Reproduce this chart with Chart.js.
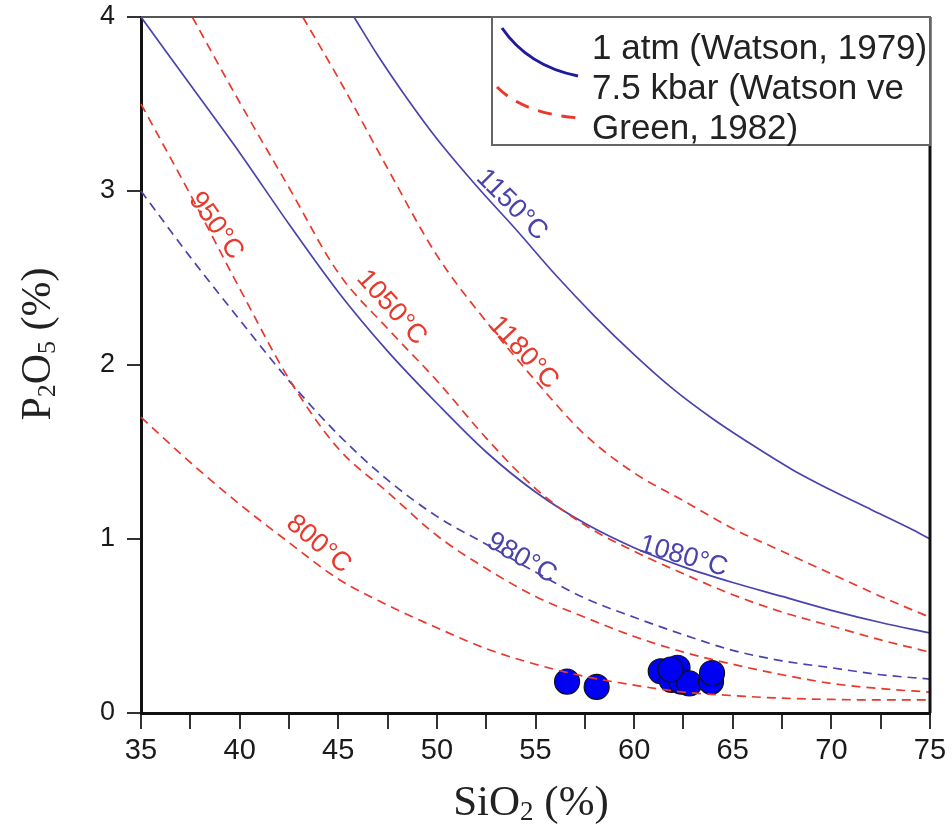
<!DOCTYPE html>
<html>
<head>
<meta charset="utf-8">
<script src="https://cdn.jsdelivr.net/npm/chart.js@4.4.1/dist/chart.umd.min.js"></script>
<style>
  html, body { margin: 0; padding: 0; background: #fff; }
  #wrap { width: 952px; height: 836px; }
</style>
</head>
<body>
<div id="wrap"><canvas id="apatiteChart" width="952" height="836"></canvas></div>
<script>
// --- data (SiO2 %, P2O5 %) ---
const xTicks = [35, 40, 45, 50, 55, 60, 65, 70, 75];
const yTicks = [0, 1, 2, 3, 4];

// 1 atm (Watson, 1979) - blue
const c1150x = [45.8, 47, 48.5, 50, 52, 54, 56, 58, 60, 62, 64, 66, 68, 70, 72, 74, 75];
const c1150y = [4.0, 3.78, 3.53, 3.30, 3.03, 2.78, 2.52, 2.28, 2.06, 1.86, 1.69, 1.54, 1.40, 1.28, 1.17, 1.06, 1.0];

const c1080x = [35, 37.5, 40, 42.5, 45, 47.5, 50, 52.5, 55, 57.5, 60, 62.5, 65, 67.5, 70, 72.5, 75];
const c1080y = [4.0, 3.61, 3.22, 2.81, 2.42, 2.08, 1.78, 1.50, 1.27, 1.09, 0.95, 0.84, 0.75, 0.67, 0.59, 0.52, 0.46];

const c980x = [35, 37.5, 40, 42.5, 45, 47.5, 50, 52.5, 55, 57.5, 60, 62.5, 65, 67.5, 70, 72.5, 75];
const c980y = [3.0, 2.62, 2.26, 1.91, 1.60, 1.34, 1.13, 0.97, 0.81, 0.66, 0.55, 0.45, 0.36, 0.30, 0.26, 0.22, 0.195];

// 7.5 kbar (Watson ve Green, 1982) - red
const c1180x = [43.2, 45, 47.5, 50, 52.5, 55, 57.5, 60, 62.5, 65, 67.5, 70, 72.5, 75];
const c1180y = [4.0, 3.65, 3.13, 2.63, 2.25, 1.91, 1.60, 1.38, 1.22, 1.06, 0.93, 0.80, 0.67, 0.55];

const c1050x = [37.6, 40, 42.5, 45, 47.5, 50, 52.5, 55, 57.5, 60, 62.5, 65, 67.5, 70, 72.5, 75];
const c1050y = [4.0, 3.51, 3.02, 2.53, 2.21, 1.91, 1.58, 1.29, 1.08, 0.93, 0.80, 0.68, 0.58, 0.50, 0.42, 0.35];

const c950x = [35, 37.5, 40, 42.5, 45, 47.5, 50, 52.5, 55, 57.5, 60, 62.5, 65, 67.5, 70, 72.5, 75];
const c950y = [3.5, 2.98, 2.44, 1.92, 1.52, 1.27, 1.02, 0.83, 0.67, 0.55, 0.44, 0.35, 0.28, 0.22, 0.17, 0.14, 0.12];

const c800x = [35, 37.5, 40, 42.5, 45, 47.5, 50, 52.5, 55, 57.5, 60, 62.5, 65, 67.5, 70, 72.5, 75];
const c800y = [1.70, 1.44, 1.20, 0.98, 0.77, 0.62, 0.49, 0.37, 0.28, 0.21, 0.16, 0.12, 0.10, 0.085, 0.078, 0.075, 0.075];

// samples
const sampleSiO2 = [56.6, 58.1, 61.35, 62.2, 61.9, 62.4, 62.8, 63.9, 63.95, 61.85];
const sampleP2O5 = [0.18, 0.15, 0.24, 0.26, 0.19, 0.18, 0.17, 0.18, 0.23, 0.25];

const legendTexts = ['1 atm (Watson, 1979)', '7.5 kbar (Watson ve', 'Green, 1982)'];

// Colors
const lineBlue = '#4a43ad';
const lineRed = '#e8392c';
const legendBlue = '#1d1d9c';

const pts = (xs, ys) => xs.map((x, i) => ({ x: x, y: ys[i] }));

function curve(xs, ys, color, dashed) {
    return {
        data: pts(xs, ys),
        showLine: true,
        borderColor: color,
        borderWidth: 1.7,
        borderDash: dashed ? [9, 6] : [],
        pointRadius: 0,
        tension: 0.4,
        cubicInterpolationMode: 'monotone',
        clip: false
    };
}

// curve labels, anchored in data units
const curveLabels = [
    { text: '1150°C', x: 53.8, y: 2.92, angle: 45, color: lineBlue },
    { text: '950°C', x: 38.8, y: 2.80, angle: 55, color: lineRed },
    { text: '1050°C', x: 47.7, y: 2.33, angle: 48, color: lineRed },
    { text: '1180°C', x: 54.4, y: 2.07, angle: 47, color: lineRed },
    { text: '800°C', x: 44.0, y: 0.97, angle: 40, color: lineRed },
    { text: '980°C', x: 54.3, y: 0.89, angle: 30, color: lineBlue },
    { text: '1080°C', x: 62.5, y: 0.90, angle: 16, color: lineBlue }
];

const curveLabelPlugin = {
    id: 'curveLabels',
    afterDatasetsDraw(chart) {
        const ctx = chart.ctx;
        const xs = chart.scales.x, ys = chart.scales.y;
        ctx.save();
        ctx.font = "27px 'Liberation Sans', Arial, sans-serif";
        ctx.textAlign = 'center';
        ctx.textBaseline = 'middle';
        curveLabels.forEach(l => {
            ctx.save();
            ctx.translate(xs.getPixelForValue(l.x), ys.getPixelForValue(l.y));
            ctx.rotate(l.angle * Math.PI / 180);
            ctx.fillStyle = l.color;
            ctx.fillText(l.text, 0, 0);
            ctx.restore();
        });
        ctx.restore();
    }
};

// text with subscripts: parts = [[str, isSub], ...]
function drawSubText(ctx, parts, size, cx, cy) {
    const subSize = Math.round(size * 0.62);
    let total = 0;
    parts.forEach(p => {
        ctx.font = (p[1] ? subSize : size) + "px 'Liberation Serif', 'Times New Roman', serif";
        total += ctx.measureText(p[0]).width;
    });
    let x = cx - total / 2;
    parts.forEach(p => {
        ctx.font = (p[1] ? subSize : size) + "px 'Liberation Serif', 'Times New Roman', serif";
        ctx.fillText(p[0], x, cy + (p[1] ? size * 0.12 : 0));
        x += ctx.measureText(p[0]).width;
    });
}

const framePlugin = {
    id: 'frameAndTitles',
    afterDraw(chart) {
        const ctx = chart.ctx;
        const a = chart.chartArea;
        ctx.save();
        // top & right frame
        ctx.strokeStyle = '#555';
        ctx.lineWidth = 2;
        ctx.beginPath();
        ctx.moveTo(a.left, a.top);
        ctx.lineTo(a.right, a.top);
        ctx.stroke();
        ctx.strokeStyle = '#111';
        ctx.lineWidth = 3;
        ctx.beginPath();
        ctx.moveTo(a.right, a.top);
        ctx.lineTo(a.right, a.bottom);
        ctx.stroke();

        // axis titles
        ctx.fillStyle = '#222';
        ctx.textBaseline = 'alphabetic';
        ctx.textAlign = 'left';
        drawSubText(ctx, [['SiO', 0], ['2', 1], [' (%)', 0]], 43, 531, 815);
        ctx.save();
        ctx.translate(50, 344);
        ctx.rotate(-Math.PI / 2);
        drawSubText(ctx, [['P', 0], ['2', 1], ['O', 0], ['5', 1], [' (%)', 0]], 42, 0, 0);
        ctx.restore();

        // legend box
        const lx = 492, ly = 17, lw = a.right - 492, lh = 128;
        ctx.fillStyle = '#fff';
        ctx.fillRect(lx, ly, lw, lh);
        ctx.strokeStyle = '#666';
        ctx.lineWidth = 2;
        ctx.strokeRect(lx, ly, lw, lh);

        ctx.lineWidth = 3;
        ctx.strokeStyle = legendBlue;
        ctx.beginPath();
        ctx.moveTo(502, 28);
        ctx.quadraticCurveTo(528, 66, 578, 76);
        ctx.stroke();

        ctx.strokeStyle = lineRed;
        ctx.setLineDash([14, 10]);
        ctx.beginPath();
        ctx.moveTo(497, 87);
        ctx.quadraticCurveTo(524, 114, 580, 118);
        ctx.stroke();
        ctx.setLineDash([]);

        ctx.fillStyle = '#222';
        ctx.font = "35px 'Liberation Sans', Arial, sans-serif";
        ctx.textAlign = 'left';
        legendTexts.forEach((t, i) => ctx.fillText(t, 592, 59 + i * 40));
        ctx.restore();
    }
};

new Chart(document.getElementById('apatiteChart'), {
    type: 'scatter',
    data: {
        datasets: [
            curve(c800x, c800y, lineRed, true),
            curve(c950x, c950y, lineRed, true),
            curve(c1050x, c1050y, lineRed, true),
            curve(c1180x, c1180y, lineRed, true),
            curve(c980x, c980y, lineBlue, true),
            curve(c1080x, c1080y, lineBlue, false),
            curve(c1150x, c1150y, lineBlue, false),
            {
                data: pts(sampleSiO2, sampleP2O5),
                showLine: false,
                pointRadius: 12.5,
                pointHoverRadius: 12.5,
                pointBackgroundColor: '#0000f5',
                pointBorderColor: '#111',
                pointBorderWidth: 1.2
            }
        ]
    },
    options: {
        responsive: false,
        animation: false,
        devicePixelRatio: 1,
        layout: { padding: { top: 17, right: 22, left: 0, bottom: 0 } },
        plugins: { legend: { display: false }, tooltip: { enabled: false } },
        scales: {
            x: {
                type: 'linear',
                min: 35, max: 75,
                afterFit: s => { s.height = 123; s.paddingRight = 0; s.paddingLeft = 0; },
                afterBuildTicks: s => {
                    s.ticks = [];
                    for (let i = 0; i <= 16; i++) s.ticks.push({ value: 35 + i * 2.5 });
                },
                ticks: {
                    autoSkip: false,
                    maxRotation: 0,
                    padding: 5,
                    color: '#1a1a1a',
                    font: { family: "'Liberation Sans Narrow', 'Liberation Sans', Arial, sans-serif", size: 29 },
                    callback: v => xTicks.includes(v) ? String(v) : ''
                },
                grid: { drawOnChartArea: false, drawTicks: true, tickLength: 16, color: '#333', lineWidth: 2 },
                border: { display: true, color: '#111', width: 3 }
            },
            y: {
                type: 'linear',
                min: 0, max: 4,
                afterFit: s => { s.width = 141; s.paddingTop = 0; s.paddingBottom = 0; },
                afterBuildTicks: s => { s.ticks = yTicks.map(v => ({ value: v })); },
                ticks: {
                    padding: 12,
                    color: '#1a1a1a',
                    font: { family: "'Liberation Sans', Arial, sans-serif", size: 27 }
                },
                grid: { drawOnChartArea: false, drawTicks: true, tickLength: 14, color: '#333', lineWidth: 2 },
                border: { display: true, color: '#111', width: 3 }
            }
        }
    },
    plugins: [curveLabelPlugin, framePlugin]
});
</script>
</body>
</html>
